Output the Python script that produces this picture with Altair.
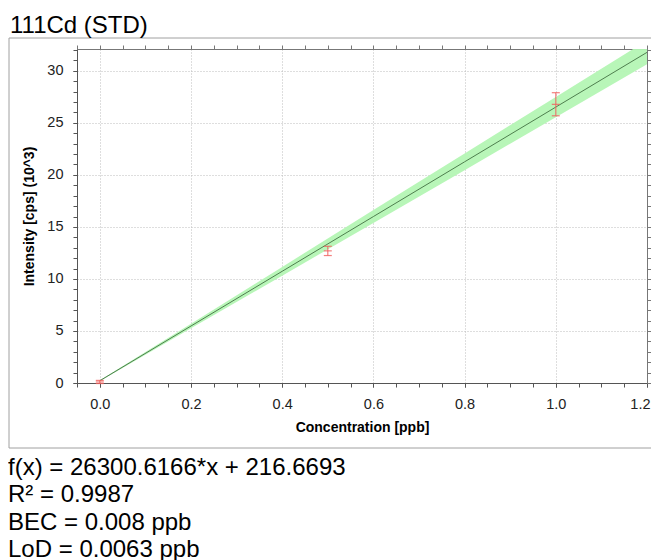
import altair as alt
import pandas as pd

# ---- data (intensity in 10^3 cps) ----
conc = [0.0, 0.5, 1.0]
intensity = [0.10, 12.70, 26.78]
err_lo = [-0.05, 12.25, 25.68]
err_hi = [0.25, 13.14, 27.90]

fit_x = [0.0, 0.2, 0.4, 0.6, 0.8, 1.0, 1.2]
fit_y = [0.2167, 5.4768, 10.7369, 15.9971, 21.2572, 26.5173, 31.7775]
band_half = [0.05, 0.22, 0.42, 0.62, 0.80, 0.97, 1.15]

x_major = [0.0, 0.2, 0.4, 0.6, 0.8, 1.0, 1.2]
y_major = [0, 5, 10, 15, 20, 25, 30]
minor_x = [round(-0.05 + 0.05 * i, 2) for i in range(26)]
minor_y = list(range(0, 33))

title_text = "111Cd (STD)"
stats_lines = ["f(x) = 26300.6166*x + 216.6693", "R\u00b2 = 0.9987",
               "BEC = 0.008 ppb", "LoD = 0.0063 ppb"]

FONT = "Liberation Sans"
W, H = 570, 334
XDOM = [-0.05, 1.2]
YDOM = [0, 32.1]

pts = pd.DataFrame({"x": conc, "y": intensity, "lo": err_lo, "hi": err_hi})
fit = pd.DataFrame({"x": fit_x, "y": fit_y,
                    "lo": [a - b for a, b in zip(fit_y, band_half)],
                    "hi": [a + b for a, b in zip(fit_y, band_half)]})

xs = alt.Scale(domain=XDOM, nice=False, zero=False)
ys = alt.Scale(domain=YDOM, nice=False, zero=False)

GRID = dict(grid=True, gridColor="#bdbdbd", gridDash=[1, 2])
COMMON = dict(tickSize=4, labelPadding=10, titlePadding=10, labelFontSize=14.5,
              titleFontSize=14, titleFontWeight="bold", labelColor="#222",
              titleColor="#000", domainColor="#555", tickColor="#555",
              labelFont=FONT, titleFont=FONT)

x_axis = alt.Axis(orient="bottom", values=x_major, format=".1f",
                  title="Concentration [ppb]", labelFlush=True, labelFlushOffset=3,
                  **GRID, **COMMON)
y_axis = alt.Axis(orient="left", values=y_major, title="Intensity [cps] (10^3)",
                  **GRID, **COMMON)

band = alt.Chart(fit).mark_area(color="#b4f6b4", opacity=0.95, clip=True).encode(
    x=alt.X("x:Q", scale=xs, axis=x_axis),
    y=alt.Y("lo:Q", scale=ys, axis=y_axis),
    y2="hi:Q",
)

# minor ticks (bottom / left)
minor = alt.Chart(fit).mark_point(opacity=0).encode(
    x=alt.X("x:Q", scale=xs, axis=alt.Axis(orient="bottom", values=minor_x, labels=False,
                                           title=None, grid=False, tickSize=4,
                                           domain=False, tickColor="#555")),
    y=alt.Y("y:Q", scale=ys, axis=alt.Axis(orient="left", values=minor_y, labels=False,
                                           title=None, grid=False, tickSize=4,
                                           domain=False, tickColor="#555")),
)
# mirrored ticks (top / right)
mirror = alt.Chart(fit).mark_point(opacity=0).encode(
    x=alt.X("x:Q", scale=xs, axis=alt.Axis(orient="top", values=minor_x, labels=False,
                                           title=None, grid=False, tickSize=4,
                                           domainColor="#777", tickColor="#777")),
    y=alt.Y("y:Q", scale=ys, axis=alt.Axis(orient="right", values=minor_y, labels=False,
                                           title=None, grid=False, tickSize=4,
                                           domainColor="#777", tickColor="#777")),
)

line = alt.Chart(fit).mark_line(color="#4f7f4f", strokeWidth=1, clip=True).encode(
    x=alt.X("x:Q", scale=xs, axis=None), y=alt.Y("y:Q", scale=ys, axis=None))

ERR = "#f0605e"
err_rule = alt.Chart(pts).mark_rule(color=ERR, opacity=0.8, strokeWidth=1.2).encode(
    x=alt.X("x:Q", scale=xs, axis=None), y=alt.Y("lo:Q", scale=ys, axis=None), y2="hi:Q")


def cap(field):
    return alt.Chart(pts).mark_tick(color=ERR, opacity=0.8, orient="horizontal",
                                    size=8, thickness=1.2).encode(
        x=alt.X("x:Q", scale=xs, axis=None), y=alt.Y(f"{field}:Q", scale=ys, axis=None))


one = pd.DataFrame({"k": [0]})
frame = alt.Chart(one).mark_rect(fill=None, stroke="#a0a0a0", strokeWidth=1,
                                 clip=False).encode(
    x=alt.value(-68), x2=alt.value(580), y=alt.value(-11), y2=alt.value(399))

title = alt.Chart(pd.DataFrame({"t": [title_text]})).mark_text(
    align="left", baseline="alphabetic", font=FONT, fontSize=24, color="#000"
).encode(text="t:N", x=alt.value(-67), y=alt.value(-16))

stats = pd.DataFrame({"t": stats_lines})
stats_layers = [
    alt.Chart(stats.iloc[[i]]).mark_text(
        align="left", baseline="alphabetic", font=FONT, fontSize=24, color="#000"
    ).encode(text="t:N", x=alt.value(-69), y=alt.value(426 + 27.3 * i))
    for i in range(len(stats_lines))
]

chart = alt.layer(frame, band, minor, mirror, line, err_rule, cap("lo"), cap("hi"),
                  cap("y"), title, *stats_layers).resolve_axis(
    x="independent", y="independent").properties(
    width=W, height=H,
    autosize=alt.AutoSizeParams(type="none"),
    padding={"left": 69, "top": 41, "right": 4, "bottom": 177},
).configure_view(stroke=None).configure(background="white")

chart.save("out.html", embed_options={"renderer": "svg", "actions": False})
